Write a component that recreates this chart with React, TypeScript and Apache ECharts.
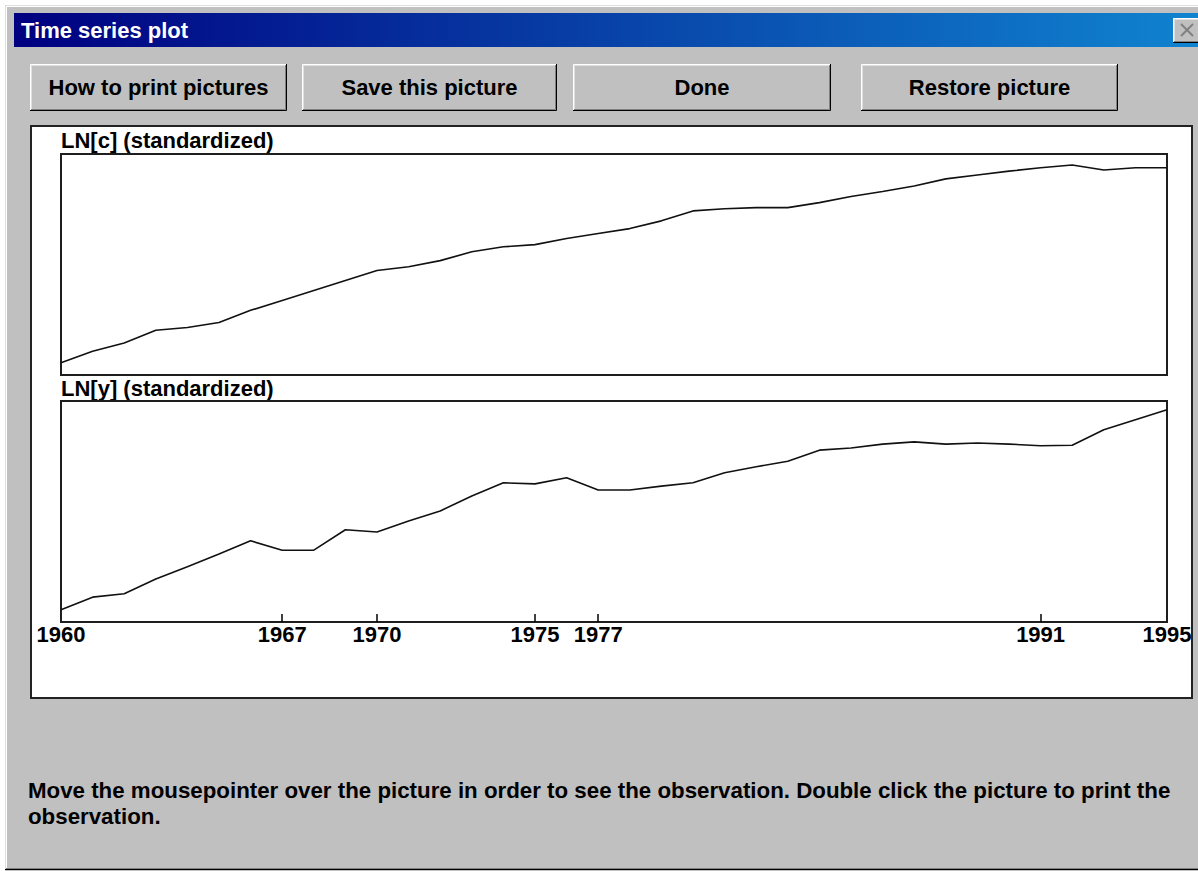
import React, { useEffect, useRef } from "react";
import * as echarts from "echarts";

const years = [
  1960, 1961, 1962, 1963, 1964, 1965, 1966, 1967, 1968, 1969,
  1970, 1971, 1972, 1973, 1974, 1975, 1976, 1977, 1978, 1979,
  1980, 1981, 1982, 1983, 1984, 1985, 1986, 1987, 1988, 1989,
  1990, 1991, 1992, 1993, 1994, 1995,
];

const lnC = [
  -1.78, -1.57, -1.42, -1.19, -1.14, -1.05, -0.83, -0.65, -0.47, -0.29,
  -0.11, -0.04, 0.07, 0.23, 0.32, 0.36, 0.47, 0.56, 0.65, 0.79,
  0.97, 1.01, 1.03, 1.03, 1.12, 1.23, 1.32, 1.42, 1.55, 1.62,
  1.69, 1.75, 1.8, 1.71, 1.75, 1.75,
];

const lnY = [
  -1.78, -1.55, -1.49, -1.22, -1.0, -0.77, -0.53, -0.7, -0.7, -0.33,
  -0.37, -0.17, 0.01, 0.28, 0.52, 0.5, 0.61, 0.39, 0.39, 0.46,
  0.52, 0.7, 0.81, 0.91, 1.11, 1.15, 1.22, 1.26, 1.22, 1.24,
  1.22, 1.19, 1.2, 1.48, 1.66, 1.84,
];

const tickYears = [1967, 1970, 1975, 1977, 1991];
const labelYears = [1960, 1967, 1970, 1975, 1977, 1991, 1995];
const panelTitles = ["LN[c] (standardized)", "LN[y] (standardized)"];
const buttonLabels = ["How to print pictures", "Save this picture", "Done", "Restore picture"];
const windowTitle = "Time series plot";
const footerLines = [
  "Move the mousepointer over the picture in order to see the observation. Double click the picture to print the",
  "observation.",
];

const FONT = '"Liberation Sans", Arial, sans-serif';

function bevel(x: number, y: number, w: number, h: number): any[] {
  return [
    { type: "rect", shape: { x, y, width: w, height: h }, style: { fill: "#c0c0c0" } },
    {
      type: "polyline",
      shape: { points: [[x + 0.5, y + h - 1], [x + 0.5, y + 0.5], [x + w - 1, y + 0.5]] },
      style: { stroke: "#ffffff", lineWidth: 1, fill: null },
    },
    {
      type: "polyline",
      shape: { points: [[x + 1.5, y + h - 2], [x + 1.5, y + 1.5], [x + w - 2, y + 1.5]] },
      style: { stroke: "#dfdfdf", lineWidth: 1, fill: null },
    },
    {
      type: "polyline",
      shape: { points: [[x, y + h - 0.5], [x + w - 0.5, y + h - 0.5], [x + w - 0.5, y]] },
      style: { stroke: "#000000", lineWidth: 1, fill: null },
    },
    {
      type: "polyline",
      shape: { points: [[x + 1, y + h - 1.5], [x + w - 1.5, y + h - 1.5], [x + w - 1.5, y + 1]] },
      style: { stroke: "#808080", lineWidth: 1, fill: null },
    },
  ];
}

export default function App() {
  const ref = useRef<HTMLDivElement>(null);

  useEffect(() => {
    if (!ref.current) return;
    const chart = echarts.init(ref.current, null, { renderer: "svg" });

    const buttons = [
      { x: 30, w: 257 },
      { x: 302, w: 255 },
      { x: 573, w: 258 },
      { x: 861, w: 257 },
    ];

    const graphics: any[] = [
      // window frame
      { type: "rect", z: -10, shape: { x: 5, y: 5, width: 1200, height: 866 }, style: { fill: "#c0c0c0" } },
      {
        type: "polyline", z: -9,
        shape: { points: [[5.5, 869], [5.5, 5.5], [1198, 5.5]] },
        style: { stroke: "#dfdfdf", lineWidth: 1, fill: null },
      },
      {
        type: "polyline", z: -9,
        shape: { points: [[6.5, 868], [6.5, 6.5], [1198, 6.5]] },
        style: { stroke: "#ffffff", lineWidth: 1, fill: null },
      },
      { type: "line", z: -9, shape: { x1: 6, y1: 868.5, x2: 1198, y2: 868.5 }, style: { stroke: "#808080", lineWidth: 1 } },
      { type: "line", z: -9, shape: { x1: 5, y1: 869.5, x2: 1198, y2: 869.5 }, style: { stroke: "#000000", lineWidth: 1 } },
      // title bar
      {
        type: "rect", z: -8,
        shape: { x: 14, y: 13, width: 1190, height: 34 },
        style: {
          fill: {
            type: "linear", x: 0, y: 0, x2: 1, y2: 0,
            colorStops: [
              { offset: 0, color: "#000080" },
              { offset: 1, color: "#1084d0" },
            ],
          },
        },
      },
      {
        type: "text", z: -7,
        style: {
          x: 21, y: 30, text: windowTitle, fill: "#ffffff",
          font: `bold 22px ${FONT}`, textVerticalAlign: "middle",
        },
      },
      // close button
      ...bevel(1173, 18, 30, 25).map((e) => ({ ...e, z: -7 })),
      { type: "line", z: -6, shape: { x1: 1181, y1: 24, x2: 1193, y2: 36 }, style: { stroke: "#808080", lineWidth: 2 } },
      { type: "line", z: -6, shape: { x1: 1193, y1: 24, x2: 1181, y2: 36 }, style: { stroke: "#808080", lineWidth: 2 } },
      // white panel
      {
        type: "rect", z: -5,
        shape: { x: 31, y: 126, width: 1161, height: 572 },
        style: { fill: "#ffffff", stroke: "#222222", lineWidth: 2 },
      },
      // panel titles
      {
        type: "text", z: -4,
        style: { x: 61, y: 140, text: panelTitles[0], fill: "#000", font: `bold 22px ${FONT}`, textVerticalAlign: "middle" },
      },
      {
        type: "text", z: -4,
        style: { x: 61, y: 388, text: panelTitles[1], fill: "#000", font: `bold 22px ${FONT}`, textVerticalAlign: "middle" },
      },
      // footer
      {
        type: "text", z: -4,
        style: { x: 28, y: 790, text: footerLines[0], fill: "#000", font: `bold 22.3px ${FONT}`, textVerticalAlign: "middle" },
      },
      {
        type: "text", z: -4,
        style: { x: 28, y: 816, text: footerLines[1], fill: "#000", font: `bold 22.3px ${FONT}`, textVerticalAlign: "middle" },
      },
    ];

    buttons.forEach((b, i) => {
      bevel(b.x, 64, b.w, 47).forEach((e) => graphics.push({ ...e, z: -4 }));
      graphics.push({
        type: "text", z: -3,
        style: {
          x: b.x + b.w / 2, y: 87, text: buttonLabels[i], fill: "#000",
          font: `bold 22px ${FONT}`, textAlign: "center", textVerticalAlign: "middle",
        },
      });
    });

    const toPairs = (vals: number[]) => years.map((yr, i) => [yr, vals[i]]);

    chart.setOption({
      animation: false,
      backgroundColor: "#ffffff",
      graphic: { elements: graphics },
      grid: [
        { left: 61, top: 154, width: 1106, height: 221, show: true, borderColor: "#1e1e1e", borderWidth: 2, backgroundColor: "transparent", z: 5 },
        { left: 61, top: 401, width: 1106, height: 221, show: true, borderColor: "#1e1e1e", borderWidth: 2, backgroundColor: "transparent", z: 5 },
      ],
      xAxis: [
        { type: "value", gridIndex: 0, min: 1960, max: 1995, show: false },
        {
          type: "value", gridIndex: 1, min: 1960, max: 1995, z: 6,
          position: "bottom",
          axisLine: { show: false, onZero: false },
          splitLine: { show: false },
          axisTick: {
            show: true, inside: true, length: 8, customValues: tickYears,
            lineStyle: { color: "#000", width: 1.5 },
          },
          axisLabel: {
            show: true, customValues: labelYears, margin: 12,
            color: "#000", fontFamily: FONT, fontWeight: "bold", fontSize: 22,
            verticalAlign: "middle",
            formatter: (v: number) => String(v),
          },
        },
      ],
      yAxis: [
        { type: "value", gridIndex: 0, min: -2, max: 2, show: false },
        { type: "value", gridIndex: 1, min: -2, max: 2, show: false },
      ],
      series: [
        {
          type: "line", xAxisIndex: 0, yAxisIndex: 0, data: toPairs(lnC), z: 6,
          showSymbol: false, lineStyle: { color: "#111", width: 1.6 },
        },
        {
          type: "line", xAxisIndex: 1, yAxisIndex: 1, data: toPairs(lnY), z: 6,
          showSymbol: false, lineStyle: { color: "#111", width: 1.6 },
        },
      ],
    });

    return () => chart.dispose();
  }, []);

  return (
    <div
      ref={ref}
      style={{ position: "fixed", left: 0, top: 0, width: 1198, height: 871 }}
    />
  );
}
